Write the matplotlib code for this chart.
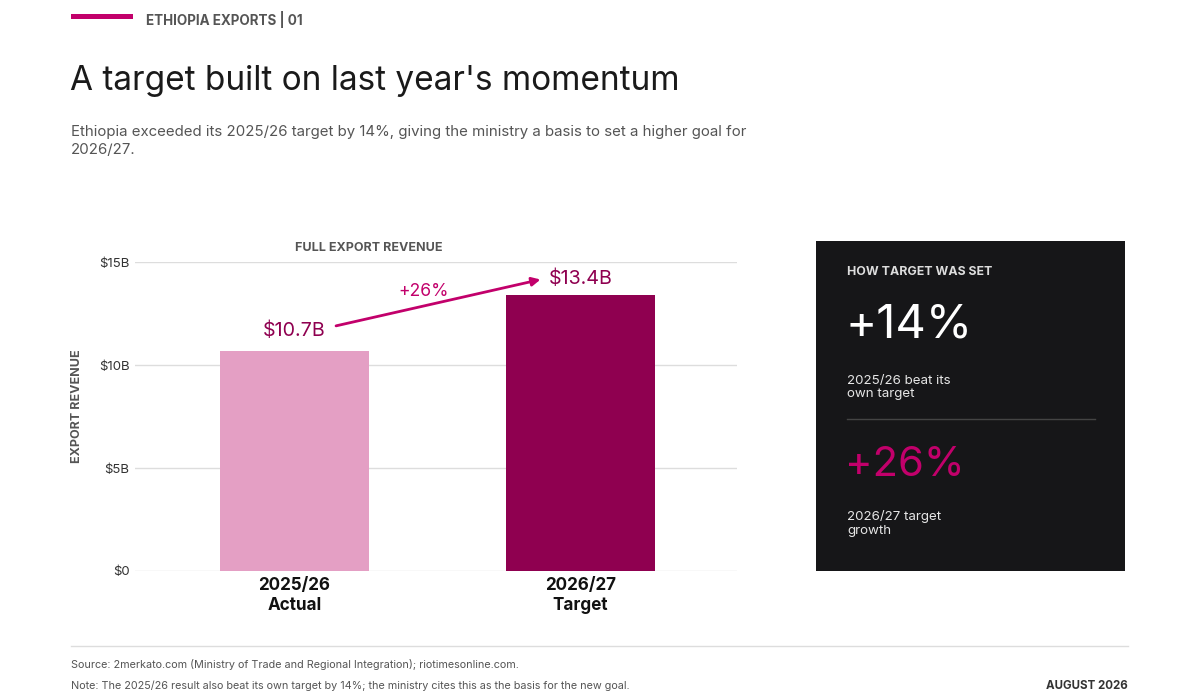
import matplotlib
matplotlib.use("Agg")
import matplotlib.pyplot as plt
from matplotlib.patches import Rectangle

plt.rcParams['font.family'] = ['Inter', 'DejaVu Sans']

# data
categories = ["2025/26\nActual", "2026/27\nTarget"]
revenue = [10.7, 13.4]          # billions USD
value_labels = ["$10.7B", "$13.4B"]
growth_label = "+26%"
y_ticks = [0, 5, 10, 15]
y_tick_labels = ["$0", "$5B", "$10B", "$15B"]
beat_pct = "+14%"
target_growth = "+26%"

PINK = "#e49fc4"
WINE = "#8f0050"
MAGENTA = "#c2006b"
GREY = "#555555"

W, H = 1200, 700
fig = plt.figure(figsize=(12, 7), dpi=100)
fig.patch.set_facecolor("white")


def fx(x):
    return x / W


def fy(y):
    return 1 - y / H


# header
fig.add_artist(Rectangle((fx(71), fy(19)), fx(133) - fx(71), 5 / H,
                         transform=fig.transFigure, color=MAGENTA, lw=0))
fig.text(fx(146), fy(19), "ETHIOPIA EXPORTS | 01", fontsize=9.7, fontweight="bold",
         color=GREY, va="center", ha="left")
fig.text(fx(70), fy(81), "A target built on last year's momentum", fontsize=24,
         color="#1a1a1a", va="center", ha="left")
fig.text(fx(71), fy(141),
         "Ethiopia exceeded its 2025/26 target by 14%, giving the ministry a basis to set a higher goal for\n2026/27.",
         fontsize=10.8, color=GREY, va="center", ha="left", linespacing=1.3)

# chart
ax = fig.add_axes([fx(135), fy(571), fx(737) - fx(135), (571 - 262) / H])
x = [0, 1]
ax.bar(x, revenue, width=0.52, color=[PINK, WINE], zorder=2)
ax.set_xlim(-0.558, 1.547)
ax.set_ylim(0, 15)
ax.set_yticks(y_ticks)
ax.set_yticklabels(y_tick_labels, fontsize=9.5, color="#333333")
ax.set_xticks(x)
ax.set_xticklabels(categories, fontsize=12.3, fontweight="bold", color="#111111",
                   linespacing=1.3)
ax.tick_params(axis="both", length=0)
ax.tick_params(axis="y", pad=4)
ax.tick_params(axis="x", pad=4)
ax.grid(axis="y", color="#dddddd", lw=1, zorder=0)
for s in ax.spines.values():
    s.set_visible(False)
fig.text(fx(77), fy(406), "EXPORT REVENUE", fontsize=9, fontweight="bold", color=GREY,
         rotation=90, ha="center", va="center")
fig.text(fx(369), fy(248), "FULL EXPORT REVENUE", fontsize=9, fontweight="bold",
         color=GREY, ha="center", va="center")

ax.text(x[0], revenue[0] + 0.95, value_labels[0], fontsize=14.2, color=WINE,
        ha="center", va="center")
ax.text(x[1], revenue[1] + 0.8, value_labels[1], fontsize=14.2, color=WINE,
        ha="center", va="center", clip_on=False)
ax.annotate("", xy=(x[1] - 0.14, revenue[1] + 0.75), xytext=(x[0] + 0.145, revenue[0] + 1.2),
            arrowprops=dict(arrowstyle="-|>,head_length=0.5,head_width=0.25",
                            color=MAGENTA, lw=2, shrinkA=0, shrinkB=0))
ax.text(0.45, revenue[1] + 0.15, growth_label, fontsize=12.7, color=MAGENTA,
        ha="center", va="center")

# side panel
fig.add_artist(Rectangle((fx(816), fy(571)), fx(1125) - fx(816), (571 - 241) / H,
                         transform=fig.transFigure, color="#161618", lw=0))
fig.text(fx(847), fy(272), "HOW TARGET WAS SET", fontsize=8.9, fontweight="bold",
         color="#dddddd", va="center")
fig.text(fx(845), fy(326), beat_pct, fontsize=34, color="white", va="center")
fig.text(fx(847), fy(387.5), "2025/26 beat its\nown target", fontsize=9.6,
         color="#e6e6e6", va="center", linespacing=1.2)
fig.add_artist(plt.Line2D([fx(847), fx(1095)], [fy(419), fy(419)],
                          transform=fig.transFigure, color="#444444", lw=1))
fig.text(fx(845), fy(465), target_growth, fontsize=30, color=MAGENTA, va="center")
fig.text(fx(847), fy(523.5), "2026/27 target\ngrowth", fontsize=9.6,
         color="#e6e6e6", va="center", linespacing=1.2)

# footer
fig.add_artist(plt.Line2D([fx(71), fx(1128)], [fy(646), fy(646)],
                          transform=fig.transFigure, color="#dddddd", lw=1))
fig.text(fx(71), fy(665),
         "Source: 2merkato.com (Ministry of Trade and Regional Integration); riotimesonline.com.",
         fontsize=7.8, color=GREY, va="center")
fig.text(fx(71), fy(686),
         "Note: The 2025/26 result also beat its own target by 14%; the ministry cites this as the basis for the new goal.",
         fontsize=7.8, color=GREY, va="center")
fig.text(fx(1128), fy(686), "AUGUST 2026", fontsize=8.3, fontweight="bold", color="#333333",
         va="center", ha="right")

fig.savefig("out.png", dpi=100, facecolor="white")
